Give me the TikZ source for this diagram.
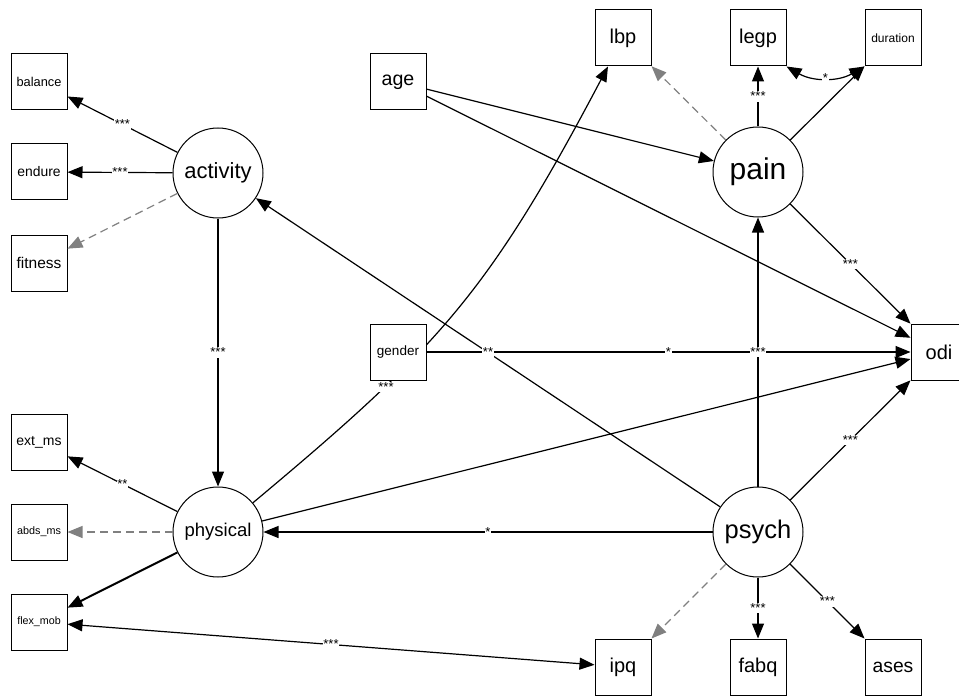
\documentclass[tikz,border=0pt]{standalone}
\usepackage{fontspec}
\setmainfont{Liberation Sans}
\usetikzlibrary{arrows.meta}
\pgfdeclarelayer{bg}
\pgfsetlayers{bg,main}
\newcommand{\fsz}[1]{\fontsize{#1}{#1}\selectfont}
\tikzset{
 lat/.style={circle,draw,fill=white,line width=1pt,minimum size=90pt,inner sep=0pt},
 man/.style={rectangle,draw,fill=white,line width=1pt,minimum width=56pt,minimum height=56pt,inner sep=0pt},
 reg/.style={line width=1.2pt,-{Triangle[length=15pt,width=12pt]}},
 fixd/.style={line width=1.2pt,draw=gray,dash pattern=on 8pt off 5pt,-{Triangle[length=15pt,width=12pt,fill=gray]}},
 cov/.style={line width=1.2pt,{Triangle[length=15pt,width=12pt]}-{Triangle[length=15pt,width=12pt]}},
 lab/.style={fill=white,inner sep=0.8pt,font=\fsz{13}},
}
\begin{document}
\begin{tikzpicture}[x=1pt,y=-1pt]
\useasboundingbox (0,0) rectangle (959,698);
\clip (0,0) rectangle (959,698);
% latent
\node[lat,font=\fsz{22}] (activity) at (218,173) {activity};
\node[lat,font=\fsz{30}] (pain) at (758,172) {pain};
\node[lat,font=\fsz{18.5}] (physical) at (218,532) {physical};
\node[lat,font=\fsz{25.5}] (psych) at (758,532) {psych};
% manifest
\node[man,font=\fsz{12.8}] (balance) at (39,82) {balance};
\node[man,font=\fsz{13.9}] (endure) at (39,172) {endure};
\node[man,font=\fsz{15.5}] (fitness) at (39,263) {fitness};
\node[man,font=\fsz{14}] (ext_ms) at (39,442) {ext\_ms};
\node[man,font=\fsz{10.8}] (abds_ms) at (39,532) {abds\_ms};
\node[man,font=\fsz{10.7}] (flex_mob) at (39,622) {flex\_mob};
\node[man,font=\fsz{19.6}] (age) at (398,82) {age};
\node[man,font=\fsz{20}] (lbp) at (623,38) {lbp};
\node[man,font=\fsz{20}] (legp) at (758,38) {legp};
\node[man,font=\fsz{12}] (duration) at (893,38) {duration};
\node[man,font=\fsz{13.5}] (gender) at (398,352) {gender};
\node[man,font=\fsz{20}] (odi) at (939,352) {odi};
\node[man,font=\fsz{20}] (ipq) at (623,667) {ipq};
\node[man,font=\fsz{20}] (fabq) at (758,667) {fabq};
\node[man,font=\fsz{19.3}] (ases) at (893,667) {ases};
% curve passing behind gender
\begin{pgfonlayer}{bg}
\draw[reg] (physical) .. controls (438,348) and (488,294) .. (lbp);
\end{pgfonlayer}
\node[lab] (glab) at (386,387) {***};
% edges
\draw[reg] (gender) -- node[lab]{*} (odi);
\draw[reg] (activity) -- node[lab]{***} (balance);
\draw[reg] (activity) -- node[lab]{***} (endure);
\draw[fixd] (activity) -- (fitness);
\draw[reg] (activity) -- node[lab]{***} (physical);
\draw[reg] (psych) -- node[lab]{**} (activity);
\draw[reg] (age) -- (pain);
\draw[reg] (age) -- (odi);
\draw[fixd] (pain) -- (lbp);
\draw[reg] (pain) -- node[lab]{***} (legp);
\draw[reg] (pain) -- (duration);
\draw[cov] (legp.south east) to[bend right=30] node[lab]{*} (duration.south west);
\draw[reg] (pain) -- node[lab]{***} (odi);
\draw[reg] (physical) -- (odi);
\draw[reg] (psych) -- node[lab]{***} (pain);
\draw[reg] (psych) -- node[lab]{***} (odi);
\draw[reg] (psych) -- node[lab]{*} (physical);
\draw[fixd] (psych) -- (ipq);
\draw[reg] (psych) -- node[lab]{***} (fabq);
\draw[reg] (psych) -- node[lab]{***} (ases);
\draw[reg] (physical) -- node[lab]{**} (ext_ms);
\draw[fixd] (physical) -- (abds_ms);
\draw[reg,line width=2pt] (physical) -- (flex_mob);
\draw[cov] (flex_mob) -- node[lab]{***} (ipq);
\end{tikzpicture}
\end{document}
